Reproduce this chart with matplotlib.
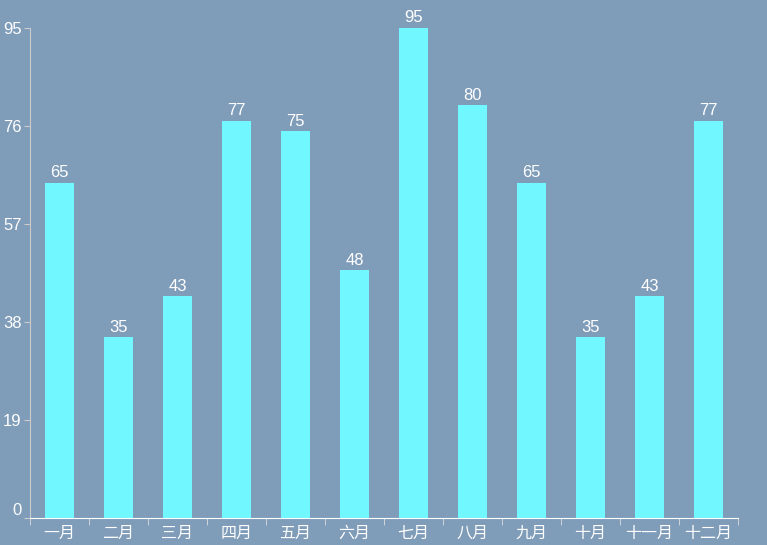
import numpy as np
import matplotlib
matplotlib.use("Agg")
from matplotlib import pyplot as plt

plt.rcParams['font.family'] = ['Liberation Sans', 'Noto Sans CJK SC', 'DejaVu Sans']

months = ['一月', '二月', '三月', '四月', '五月', '六月',
          '七月', '八月', '九月', '十月', '十一月', '十二月']
values = [65, 35, 43, 77, 75, 48, 95, 80, 65, 35, 43, 77]
y_ticks = [0, 19, 38, 57, 76, 95]

bg = '#7f9cb9'
bar_color = '#70f7ff'

fig = plt.figure(figsize=(7.67, 5.45), dpi=100, facecolor=bg)
ax = fig.add_axes([30 / 767, 27 / 545, 708 / 767, 490 / 545], facecolor=bg)

x = np.arange(len(months))
bars = ax.bar(x, values, width=0.5, color=bar_color)
for b, v in zip(bars, values):
    ax.text(b.get_x() + b.get_width() / 2, v + 0.5, str(v), ha='center', va='bottom',
            color='white', fontsize=12)

ax.set_xlim(-0.5, len(months) - 0.5)
ax.set_ylim(0, 95)
ax.set_yticks(y_ticks)
ax.set_yticklabels([str(t) for t in y_ticks])
ax.set_xticks(x)
ax.set_xticklabels(months, family=['Noto Sans CJK SC', 'DejaVu Sans'])
ax.set_xticks(np.arange(-0.5, len(months)), minor=True)
ax.tick_params(axis='x', which='major', length=0, pad=5, labelsize=11.5, colors='white')
ax.tick_params(axis='x', which='minor', length=5, color='#dddddd')
ax.tick_params(axis='y', length=4, pad=2, labelsize=12, colors='white', color='#cccccc')
# the zero label sits a little above the axis line in the original
ax.get_yticklabels()[0].set_va('bottom')

for s in ['top', 'right']:
    ax.spines[s].set_visible(False)
ax.spines['left'].set_color('#cccccc')
ax.spines['bottom'].set_color('white')

fig.savefig('out.png', dpi=100, facecolor=bg)
